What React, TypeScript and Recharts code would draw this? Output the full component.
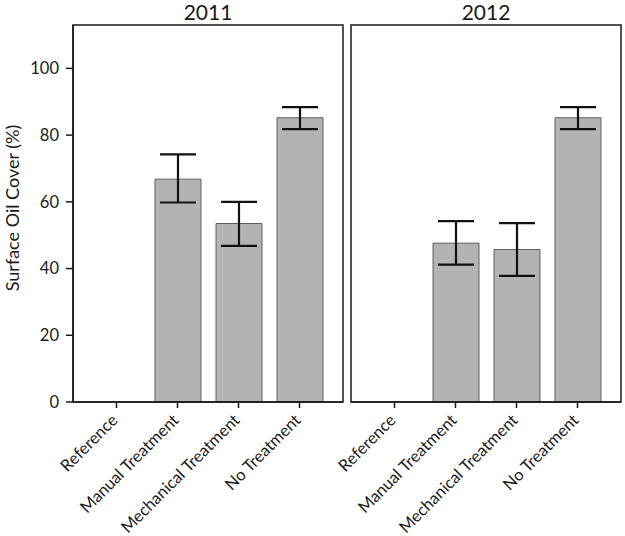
import React from "react";
import { BarChart, Bar, XAxis, YAxis, ErrorBar } from "recharts";

const categories = ["Reference", "Manual Treatment", "Mechanical Treatment", "No Treatment"];
const years = ["2011", "2012"];

const cover2011 = [0, 66.8, 53.5, 85.2];
const low2011 = [0, 59.8, 46.8, 81.8];
const high2011 = [0, 74.2, 60.0, 88.4];

const cover2012 = [0, 47.6, 45.7, 85.2];
const low2012 = [0, 41.2, 37.8, 81.8];
const high2012 = [0, 54.2, 53.6, 88.4];

const yTicks = [0, 20, 40, 60, 80, 100];

const FONT = "Lato, 'Open Sans', sans-serif";
const INK = "#1a1a1a";
const W = 625;
const H = 536;

// plot boxes (frame drawn on top)
const PLOT_TOP = 25;
const PLOT_BOTTOM = 402;
const LEFT_PLOT = [73, 343];
const RIGHT_PLOT = [351, 621];

function buildRows(mean: number[], low: number[], high: number[]) {
  return categories.map((name, i) => ({
    name,
    cover: mean[i] > 0 ? mean[i] : null,
    err: mean[i] > 0 ? [mean[i] - low[i], high[i] - mean[i]] : null,
  }));
}

const SlantTick = (props: any) => {
  const { x, y, payload } = props;
  return (
    <g transform={`translate(${x - 2},${y + 7})`}>
      <text
        x={0}
        y={0}
        dy={6}
        textAnchor="end"
        transform="rotate(-45)"
        fontSize={16.5}
        fill={INK}
        fontFamily={FONT}
      >
        {payload.value}
      </text>
    </g>
  );
};

function Panel({ data, plot, showY }: { data: any[]; plot: number[]; showY: boolean }) {
  return (
    <BarChart
      width={W}
      height={H}
      data={data}
      margin={{ top: PLOT_TOP, right: W - plot[1], left: showY ? 0 : plot[0], bottom: 0 }}
      barSize={46}
      style={{ overflow: "visible" }}
    >
      <XAxis
        dataKey="name"
        height={H - PLOT_BOTTOM}
        interval={0}
        padding={{ left: 13, right: 13 }}
        tick={<SlantTick />}
        tickSize={6}
        tickMargin={2}
        axisLine={{ stroke: INK, strokeWidth: 1.5 }}
        tickLine={{ stroke: INK, strokeWidth: 1.5 }}
      />
      <YAxis
        domain={[0, 113]}
        ticks={yTicks}
        hide={!showY}
        width={showY ? plot[0] : 0}
        tickSize={7}
        tickMargin={7}
        tick={{ fontSize: 16.5, fill: INK, fontFamily: FONT }}
        axisLine={{ stroke: INK, strokeWidth: 1.5 }}
        tickLine={{ stroke: INK, strokeWidth: 1.5 }}
      />
      <Bar dataKey="cover" fill="#b3b3b3" stroke="#5e5e5e" strokeWidth={1} isAnimationActive={false}>
        <ErrorBar dataKey="err" width={18} stroke="#111" strokeWidth={2.2} direction="y" />
      </Bar>
    </BarChart>
  );
}

export default function App() {
  const rows2011 = buildRows(cover2011, low2011, high2011);
  const rows2012 = buildRows(cover2012, low2012, high2012);
  const labelY = 208;
  return (
    <div style={{ position: "absolute", left: 0, top: 0, width: W, height: H, background: "#fff" }}>
      <div style={{ position: "absolute", left: 0, top: 0 }}>
        <Panel data={rows2011} plot={LEFT_PLOT} showY={true} />
      </div>
      <div style={{ position: "absolute", left: 0, top: 0 }}>
        <Panel data={rows2012} plot={RIGHT_PLOT} showY={false} />
      </div>
      <svg width={W} height={H} style={{ position: "absolute", left: 0, top: 0, pointerEvents: "none" }}>
        {[LEFT_PLOT, RIGHT_PLOT].map((p, i) => (
          <g key={i}>
            <rect
              x={p[0]}
              y={PLOT_TOP}
              width={p[1] - p[0]}
              height={PLOT_BOTTOM - PLOT_TOP}
              fill="none"
              stroke={INK}
              strokeWidth={1.5}
            />
            <text
              x={(p[0] + p[1]) / 2}
              y={20}
              textAnchor="middle"
              fontSize={21}
              fill={INK}
              fontFamily={FONT}
            >
              {years[i]}
            </text>
          </g>
        ))}
        <text
          x={19}
          y={labelY}
          textAnchor="middle"
          transform={`rotate(-90, 19, ${labelY})`}
          fontSize={18}
          fill={INK}
          fontFamily={FONT}
        >
          Surface Oil Cover (%)
        </text>
      </svg>
    </div>
  );
}
